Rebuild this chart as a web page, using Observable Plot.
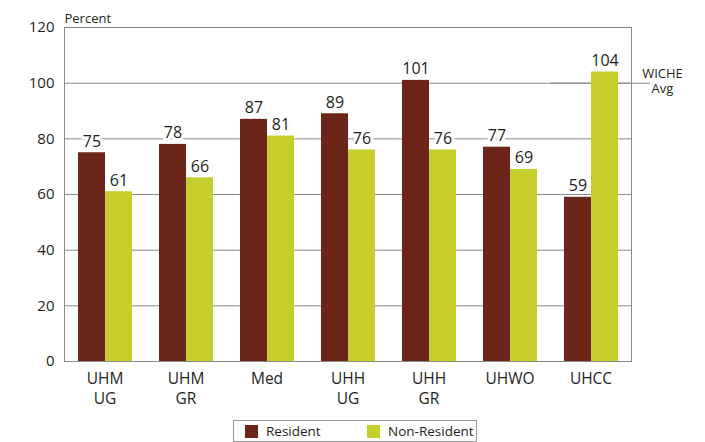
<!DOCTYPE html>
<html><head><meta charset="utf-8">
<script src="https://cdn.jsdelivr.net/npm/d3@7"></script>
<script src="https://cdn.jsdelivr.net/npm/@observablehq/plot@0.6"></script>
<style>
body{margin:0;background:#fff;font-family:"Open Sans",sans-serif;color:#231f20;}
#wrap{position:relative;width:705px;height:442px;overflow:hidden;}
#legend{position:absolute;left:233px;top:420px;width:244px;height:22px;border:1px solid #9a9a9a;box-sizing:border-box;font-size:13.5px;}
.item{position:absolute;top:0;height:20px;display:flex;align-items:center;white-space:nowrap;}
.sw{width:13px;height:13px;margin-right:8px;}
</style></head>
<body><div id="wrap"><div id="chart"></div><div id="legend"></div></div>
<script>
const categories = ["UHM UG","UHM GR","Med","UHH UG","UHH GR","UHWO","UHCC"];
const series = ["Resident","Non-Resident"];
const resident = [75,78,87,89,101,77,59];
const nonResident = [61,66,81,76,76,69,104];
const yTicks = [0,20,40,60,80,100,120];
const wicheAvg = 100;
const wicheLabel = "WICHE\nAvg";
const yTitle = "Percent";
const colors = ["#6b2519","#c6ce2e"];

const data = categories.flatMap((c,i)=>[
  {cat:c, series:series[0], value:resident[i]},
  {cat:c, series:series[1], value:nonResident[i]}
]);
const wiche = [{cat:categories[categories.length-1], value:wicheAvg, label:wicheLabel}];

const chart = Plot.plot({
  width:705, height:418,
  marginLeft:63, marginRight:73, marginTop:27, marginBottom:57,
  style:{fontFamily:'"Open Sans",sans-serif', fontSize:"15px", color:"#231f20", background:"#fff"},
  fx:{domain:categories, padding:0, label:null},
  x:{domain:series, axis:null, paddingInner:0, paddingOuter:0.48},
  y:{domain:[0,120], ticks:yTicks, tickSize:0, tickPadding:10, label:null},
  color:{domain:series, range:colors},
  marks:[
    Plot.ruleY(yTicks.filter(t=>t>0 && t<120), {stroke:"#8a8a8a", strokeOpacity:1}),
    Plot.ruleY(wiche, {fx:"cat", y:"value", stroke:"#8a8a8a", strokeOpacity:1, insetRight:-19}),
    Plot.barY(data, {fx:"cat", x:"series", y:"value", fill:"series"}),
    Plot.text(data, {fx:"cat", x:"series", y:"value", text:"value", lineAnchor:"bottom", dy:-6, fontSize:16, stroke:"white", strokeWidth:6, fill:"#231f20"}),
    Plot.frame({facet:"super", stroke:"#8a8a8a", strokeOpacity:1}),
    Plot.axisFx({anchor:"bottom", tickSize:0, tickPadding:8, label:null, fontSize:15.5, lineHeight:1.3, tickFormat:d=>d.replace(" ","\n")}),
    Plot.text(wiche, {fx:"cat", y:"value", text:"label", frameAnchor:"right", textAnchor:"middle", lineAnchor:"middle", dx:31, dy:-2, fontSize:13, lineHeight:1.15, fill:"#231f20"}),
    Plot.text([yTitle], {facet:"super", text:d=>d, frameAnchor:"top-left", textAnchor:"start", lineAnchor:"bottom", dy:-5, fontSize:13, fill:"#231f20"})
  ]
});
document.getElementById("chart").append(chart);

const legend = document.getElementById("legend");
const offsets = [11, 133];
series.forEach((s,i)=>{
  const it = document.createElement("div");
  it.className = "item";
  it.style.left = offsets[i] + "px";
  it.innerHTML = `<span class="sw" style="background:${colors[i]}"></span><span>${s}</span>`;
  legend.append(it);
});
</script>
</body></html>
